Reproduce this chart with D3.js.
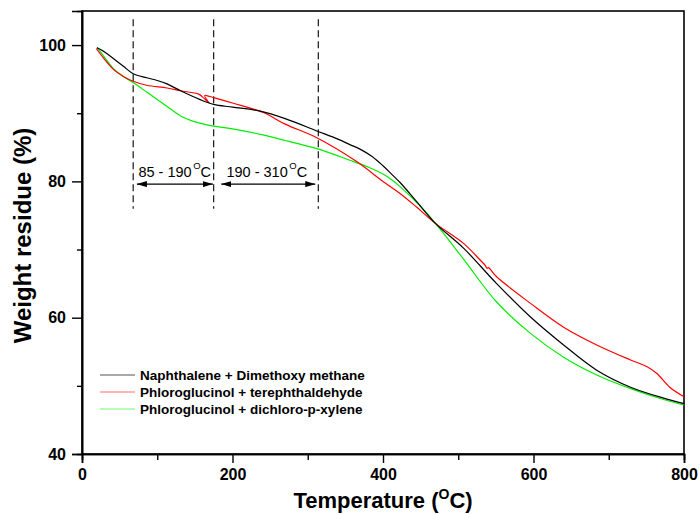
<!DOCTYPE html>
<html>
<head>
<meta charset="utf-8">
<script src="https://cdn.jsdelivr.net/npm/d3@7"></script>
<style>
  html, body { margin: 0; padding: 0; background: #fff; }
  svg { display: block; font-family: "Liberation Sans", Arial, sans-serif; }
</style>
</head>
<body>
<svg id="chart" width="700" height="514"></svg>
<script>
// TGA curves: temperature (°C) and weight residue (%) for each sample
const seriesNames = [
  "Naphthalene + Dimethoxy methane",
  "Phloroglucinol + terephthaldehyde",
  "Phloroglucinol + dichloro-p-xylene"
];
const seriesColors = ["#000000", "#ff0000", "#00ee00"];
const legendColors = ["#555555", "#ff6a6a", "#6aff6a"];

const naphT = [20, 30, 42, 55, 68, 86, 100, 113, 131, 157, 175, 200, 237, 270, 312, 340, 356, 370, 385, 400, 412, 423, 445, 470, 507, 551, 596, 640, 684, 729, 773, 800];
const naphW = [99.6, 99.0, 98.0, 96.9, 95.8, 95.2, 94.8, 94.3, 93.3, 92.0, 91.3, 90.9, 90.3, 89.2, 87.4, 86.2, 85.4, 84.7, 83.7, 82.3, 81.0, 79.8, 77.0, 73.8, 70.2, 65.0, 60.1, 56.0, 52.3, 49.8, 48.2, 47.4];

const phtT = [19, 30, 42, 55, 68, 86, 113, 131, 155, 160, 166, 169, 167, 163, 170, 175, 200, 241, 270, 312, 365, 401, 423, 445, 470, 507, 530, 536, 538, 540, 551, 596, 640, 684, 729, 751, 764, 781, 800];
const phtW = [99.5, 97.9, 96.4, 95.4, 94.7, 94.1, 93.7, 93.3, 92.8, 92.4, 91.8, 91.5, 91.8, 92.6, 92.45, 92.3, 91.5, 90.1, 88.4, 86.4, 82.9, 79.9, 78.2, 76.2, 73.8, 70.9, 68.35, 67.65, 67.25, 67.35, 66.0, 62.1, 58.6, 56.0, 53.8, 52.8, 51.8, 49.8, 48.4];

const pdxT = [20, 30, 42, 55, 68, 86, 100, 113, 131, 148, 162, 175, 200, 237, 270, 312, 356, 380, 401, 412, 423, 445, 470, 507, 551, 596, 640, 684, 729, 773, 800];
const pdxW = [99.7, 98.2, 96.5, 95.4, 94.5, 93.1, 92.0, 91.0, 89.6, 88.8, 88.4, 88.1, 87.7, 86.9, 86.0, 84.8, 83.1, 82.1, 81.0, 80.2, 79.2, 76.9, 73.8, 68.6, 62.3, 57.7, 54.2, 51.6, 49.6, 48.0, 47.2];

// axis ticks
const xMajorTicks = [0, 200, 400, 600, 800];
const xMinorTicks = [100, 300, 500, 700];
const yMajorTicks = [40, 60, 80, 100];
const yMinorTicks = [50, 70, 90];

// decomposition stage boundaries and range annotations
const boundaryTemps = [68, 175, 314];
const boundaryTop = 103.8, boundaryBottom = 76;
const rangeLabels = ["85 - 190", "190 - 310"];
const rangeLabelAt = [75, 192];
const rangeStart = [73, 185];
const rangeEnd = [174, 310];
const rangeArrowLevel = 79.6;

const svg = d3.select("#chart");
const plotLeft = 82, plotRight = 684, plotTop = 11, plotBottom = 454;

const x = d3.scaleLinear().domain([0, 800]).range([plotLeft, plotRight]);
const y = d3.scaleLinear().domain([40, 105]).range([plotBottom, plotTop]);

// frame
svg.append("rect")
  .attr("x", plotLeft).attr("y", plotTop)
  .attr("width", plotRight - plotLeft).attr("height", plotBottom - plotTop)
  .attr("fill", "none").attr("stroke", "#000").attr("stroke-width", 1.6);

// x axis
const gx = svg.append("g").attr("transform", `translate(0,${plotBottom})`);
gx.call(d3.axisBottom(x).tickValues(xMajorTicks).tickSize(9).tickPadding(6).tickFormat(d3.format("d")));
gx.append("g").call(d3.axisBottom(x).tickValues(xMinorTicks).tickSize(6).tickFormat(""));
gx.selectAll(".domain").attr("stroke-width", 1.6);
gx.selectAll(".tick line").attr("stroke-width", 1.4);
gx.selectAll(".tick text").attr("font-size", 16).attr("font-weight", "bold").attr("fill", "#000")
  .attr("font-family", "Liberation Sans, Arial, sans-serif");

// y axis
const gy = svg.append("g").attr("transform", `translate(${plotLeft},0)`);
gy.call(d3.axisLeft(y).tickValues(yMajorTicks).tickSize(10).tickPadding(6).tickFormat(d3.format("d")));
gy.append("g").call(d3.axisLeft(y).tickValues(yMinorTicks).tickSize(5).tickFormat(""));
gy.selectAll(".domain").attr("stroke-width", 1.6);
gy.selectAll(".tick line").attr("stroke-width", 1.4);
gy.selectAll(".tick text").attr("font-size", 16).attr("font-weight", "bold").attr("fill", "#000")
  .attr("font-family", "Liberation Sans, Arial, sans-serif");

// axis titles
const xTitle = svg.append("text")
  .attr("x", (plotLeft + plotRight) / 2).attr("y", 508)
  .attr("text-anchor", "middle")
  .attr("font-size", 22).attr("font-weight", "bold");
xTitle.append("tspan").text("Temperature (");
xTitle.append("tspan").attr("font-size", 14).attr("dy", -9).text("O");
xTitle.append("tspan").attr("dy", 9).text("C)");

svg.append("text")
  .attr("transform", `translate(31,${(plotTop + plotBottom) / 2 + 3}) rotate(-90)`)
  .attr("text-anchor", "middle")
  .attr("font-size", 24).attr("font-weight", "bold")
  .text("Weight residue (%)");

// dashed stage boundaries
svg.append("g").selectAll("line").data(boundaryTemps).join("line")
  .attr("x1", d => x(d)).attr("x2", d => x(d))
  .attr("y1", y(boundaryTop)).attr("y2", y(boundaryBottom))
  .attr("stroke", "#000").attr("stroke-width", 1.1)
  .attr("stroke-dasharray", "7,4");

// arrow heads
const defs = svg.append("defs");
defs.append("marker").attr("id", "headEnd")
  .attr("viewBox", "0 0 10 6").attr("refX", 10).attr("refY", 3)
  .attr("markerWidth", 10).attr("markerHeight", 6).attr("markerUnits", "userSpaceOnUse")
  .attr("orient", "auto")
  .append("path").attr("d", "M0,0 L10,3 L0,6 Z").attr("fill", "#000");
defs.append("marker").attr("id", "headStart")
  .attr("viewBox", "0 0 10 6").attr("refX", 0).attr("refY", 3)
  .attr("markerWidth", 10).attr("markerHeight", 6).attr("markerUnits", "userSpaceOnUse")
  .attr("orient", "auto")
  .append("path").attr("d", "M10,0 L0,3 L10,6 Z").attr("fill", "#000");

const ranges = rangeLabels.map((label, i) => ({ label, at: rangeLabelAt[i], from: rangeStart[i], to: rangeEnd[i] }));
svg.append("g").selectAll("line").data(ranges).join("line")
  .attr("x1", d => x(d.from)).attr("x2", d => x(d.to))
  .attr("y1", y(rangeArrowLevel)).attr("y2", y(rangeArrowLevel))
  .attr("stroke", "#000").attr("stroke-width", 1.2)
  .attr("marker-start", "url(#headStart)").attr("marker-end", "url(#headEnd)");

const rangeText = svg.append("g").selectAll("text").data(ranges).join("text")
  .attr("x", d => x(d.at)).attr("y", y(rangeArrowLevel) - 7.5)
  .attr("font-size", 14.5).attr("fill", "#000");
rangeText.append("tspan").text(d => d.label);
rangeText.append("tspan").attr("font-size", 9.5).attr("dy", -8).attr("dx", 1.5).text("O");
rangeText.append("tspan").attr("dy", 8).text("C");

// curves
const series = [
  { name: seriesNames[0], t: naphT, w: naphW },
  { name: seriesNames[1], t: phtT, w: phtW },
  { name: seriesNames[2], t: pdxT, w: pdxW }
];
const line = d3.line()
  .x(d => x(d[0])).y(d => y(d[1]))
  .curve(d3.curveCatmullRom.alpha(0.5));

// draw order: green, red, black on top
[2, 1, 0].forEach(i => {
  const s = series[i];
  svg.append("path")
    .datum(s.t.map((t, k) => [t, s.w[k]]))
    .attr("d", line)
    .attr("fill", "none")
    .attr("stroke", seriesColors[i])
    .attr("stroke-width", 1.2);
});

// legend
const legend = svg.append("g");
seriesNames.forEach((name, i) => {
  const ly = 375 + i * 17;
  legend.append("line")
    .attr("x1", 100).attr("x2", 135).attr("y1", ly).attr("y2", ly)
    .attr("stroke", legendColors[i]).attr("stroke-width", 1.2);
  legend.append("text")
    .attr("x", 140).attr("y", ly + 5)
    .attr("font-size", 13.5).attr("font-weight", "bold")
    .text(name);
});
</script>
</body>
</html>
